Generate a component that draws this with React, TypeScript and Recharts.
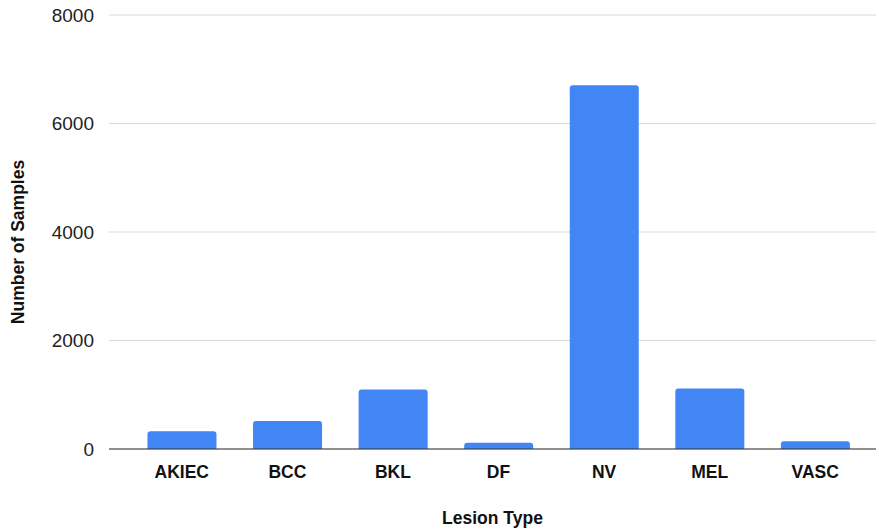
import { BarChart, Bar, XAxis, YAxis, CartesianGrid } from 'recharts';

const lesionTypes = ['AKIEC', 'BCC', 'BKL', 'DF', 'NV', 'MEL', 'VASC'];
const sampleCounts = [327, 514, 1099, 115, 6705, 1113, 142];
const yTicks = [0, 2000, 4000, 6000, 8000];

const chartData = lesionTypes.map((name, i) => ({ name, samples: sampleCounts[i] }));

const font = '"Liberation Sans", Arial, sans-serif';
const titleStyle = { fill: '#111', fontSize: 17.5, fontWeight: 'bold', fontFamily: font };

// y title sits a bit below the plot's middle in the original
const YTitle = (props: any) => {
  const vb = props.viewBox || {};
  const cx = (vb.x || 0) + 18;
  const cy = (vb.y || 0) + (vb.height || 0) / 2 + 10;
  return (
    <text
      x={cx}
      y={cy}
      transform={`rotate(-90, ${cx}, ${cy})`}
      textAnchor="middle"
      dominantBaseline="central"
      style={titleStyle}
    >
      Number of Samples
    </text>
  );
};

const App = () => {
  return (
    <div style={{ position: 'absolute', left: 0, top: 0, fontFamily: font }}>
      <BarChart
        width={879}
        height={531}
        data={chartData}
        margin={{ top: 15, right: 3, bottom: 0, left: 0 }}
        barCategoryGap="17.5%"
      >
        <CartesianGrid vertical={false} stroke="#d9d9d9" strokeWidth={1.2} />
        <XAxis
          dataKey="name"
          height={82}
          padding={{ left: 20, right: 8 }}
          axisLine={{ stroke: '#333', strokeWidth: 1.2 }}
          tickLine={false}
          tickMargin={11}
          tick={{ fill: '#111', fontSize: 17.5, fontWeight: 'bold', fontFamily: font }}
          label={{ value: 'Lesion Type', position: 'insideBottom', offset: 7, style: titleStyle }}
        />
        <YAxis
          width={109}
          domain={[0, 8000]}
          ticks={yTicks}
          axisLine={false}
          tickLine={false}
          tickMargin={9}
          tick={{ fill: '#222', fontSize: 19, fontFamily: font }}
          label={<YTitle />}
        />
        <Bar dataKey="samples" fill="#4285F4" radius={[3, 3, 0, 0]} isAnimationActive={false} />
      </BarChart>
    </div>
  );
};

export default App;
